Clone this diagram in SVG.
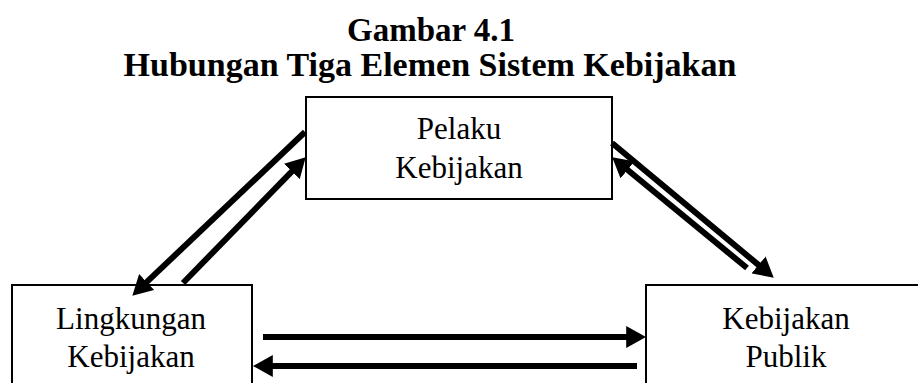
<svg xmlns="http://www.w3.org/2000/svg" width="918" height="383" viewBox="0 0 918 383">
  <defs>
    <style>
      .box { fill: #ffffff; stroke: #000000; stroke-width: 2; }
      .lbl { font-family: "Liberation Serif", "Times New Roman", serif; font-size: 31px; fill: #000000; text-anchor: middle; }
      .title { font-family: "Liberation Serif", "Times New Roman", serif; font-weight: bold; fill: #000000; text-anchor: middle; }
      .arr { fill: none; stroke: #000000; stroke-width: 6; }
      .head { marker-end: url(#ah); }
    </style>
    <marker id="ah" markerUnits="userSpaceOnUse" markerWidth="20" markerHeight="22" viewBox="0 0 18 20" refX="8" refY="10" orient="auto">
      <path d="M0,0 L18,10 L0,20 z" fill="#000000"/>
    </marker>
  </defs>
  <rect width="918" height="383" fill="#ffffff"/>

  <g id="title">
    <text class="title" x="431" y="41" font-size="33">Gambar 4.1</text>
    <text class="title" x="430" y="76" font-size="34">Hubungan Tiga Elemen Sistem Kebijakan</text>
  </g>

  <g id="node-pelaku">
    <rect class="box" x="306" y="97" width="306" height="102"/>
    <text class="lbl" x="459" y="139">Pelaku</text>
    <text class="lbl" x="459" y="178">Kebijakan</text>
  </g>

  <g id="node-lingkungan">
    <rect class="box" x="12" y="285" width="240" height="110"/>
    <text class="lbl" x="131" y="329">Lingkungan</text>
    <text class="lbl" x="131" y="367">Kebijakan</text>
  </g>

  <g id="node-publik">
    <rect class="box" x="646" y="285" width="290" height="110"/>
    <text class="lbl" x="786" y="329">Kebijakan</text>
    <text class="lbl" x="786" y="367">Publik</text>
  </g>

  <g id="connectors">
    <path class="arr head" d="M305,132 L140.3,288.1"/>
    <path class="arr head" d="M183,283 L298,165.2"/>
    <path class="arr head" d="M612,143 L765.3,270.6"/>
    <path class="arr head" d="M747,268 L620.7,164.3"/>
    <path class="arr head" d="M263,337 L635,337"/>
    <path class="arr head" d="M637,366 L264,366"/>
  </g>
</svg>
